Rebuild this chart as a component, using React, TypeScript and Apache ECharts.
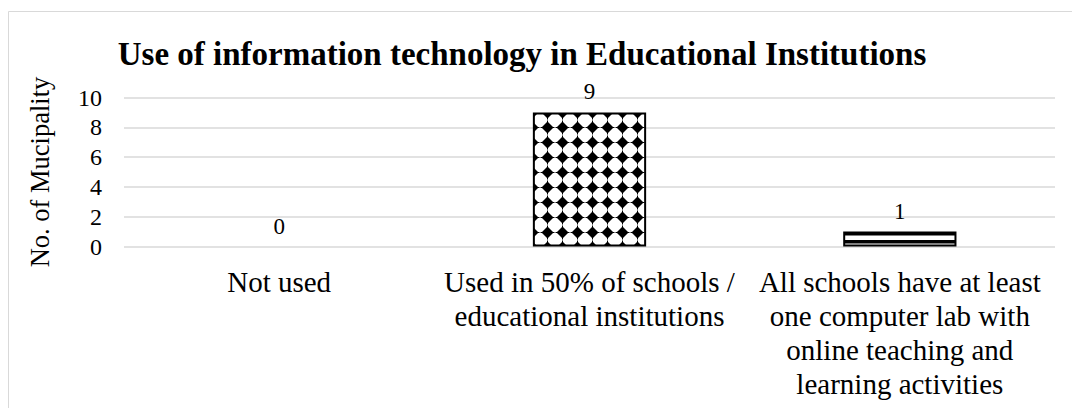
import React, { useEffect, useRef } from "react";
import * as echarts from "echarts";

const titleText = "Use of information technology in Educational Institutions";
const yAxisName = "No. of Mucipality";
const categories = [
  "Not used",
  "Used in 50% of schools /\neducational institutions",
  "All schools have at least\none computer lab with\nonline teaching and\nlearning activities",
];
const values = [0, 9, 1];
const yTicks = { min: 0, max: 10, interval: 2 };

const FONT = "'Liberation Serif', 'Times New Roman', serif";

const diamondSvg =
  "data:image/svg+xml;charset=utf-8," +
  encodeURIComponent(
    '<svg xmlns="http://www.w3.org/2000/svg" width="15" height="15"><rect width="15" height="15" fill="#fff"/><polygon points="7.5,1.5 13.5,7.5 7.5,13.5 1.5,7.5" fill="#000"/><rect x="7" y="0.5" width="1" height="14" fill="#000"/><rect x="0.5" y="7" width="14" height="1" fill="#000"/></svg>'
  );
const stripeSvg =
  "data:image/svg+xml;charset=utf-8," +
  encodeURIComponent(
    '<svg xmlns="http://www.w3.org/2000/svg" width="8" height="8"><rect width="8" height="8" fill="#fff"/><rect x="0" y="0" width="8" height="3.5" fill="#000"/></svg>'
  );

export default function App() {
  const ref = useRef<HTMLDivElement>(null);
  useEffect(() => {
    document.body.style.margin = "0";
    if (!ref.current) return;
    const chart = echarts.init(ref.current, undefined, { renderer: "svg" });
    const patterns = [
      "#ffffff",
      { image: diamondSvg, repeat: "repeat", imageWidth: 15, imageHeight: 15 },
      { image: stripeSvg, repeat: "repeat", imageWidth: 8, imageHeight: 8 },
    ];
    chart.setOption({
      animation: false,
      backgroundColor: "#ffffff",
      title: {
        text: titleText,
        left: 517,
        textAlign: "center",
        top: 32,
        textStyle: { fontFamily: FONT, fontWeight: "bold", fontSize: 33, color: "#000" },
      },
      graphic: [
        {
          type: "rect",
          shape: { x: 8.5, y: 11.5, width: 1200, height: 600 },
          style: { fill: "none", stroke: "#d9d9d9", lineWidth: 1 },
          silent: true,
        },
      ],
      grid: { left: 124, right: 17, top: 97.5, bottom: 161.5, containLabel: false },
      xAxis: {
        type: "category",
        data: categories,
        axisLine: { show: false },
        axisTick: { show: false },
        axisLabel: {
          fontFamily: FONT,
          fontSize: 29,
          color: "#000",
          margin: 18,
          lineHeight: 34,
          interval: 0,
        },
      },
      yAxis: {
        type: "value",
        min: yTicks.min,
        max: yTicks.max,
        interval: yTicks.interval,
        name: yAxisName,
        nameLocation: "middle",
        nameGap: 71,
        nameTextStyle: { fontFamily: FONT, fontSize: 26.5, color: "#000" },
        axisLine: { show: false },
        axisTick: { show: false },
        axisLabel: { fontFamily: FONT, fontSize: 24, color: "#000", margin: 22 },
        splitLine: { lineStyle: { color: "#d9d9d9", width: 1.5 } },
      },
      series: [
        {
          type: "bar",
          barWidth: "36.5%",
          data: values.map((v, i) => ({
            value: v,
            itemStyle: {
              color: patterns[i],
              borderColor: "#000",
              borderWidth: v > 0 ? 2 : 0,
            },
          })),
          label: {
            show: true,
            position: "top",
            distance: 9,
            fontFamily: FONT,
            fontSize: 23,
            color: "#000",
          },
        },
      ],
    });
    return () => chart.dispose();
  }, []);
  return <div ref={ref} style={{ width: 1072, height: 408 }} />;
}
